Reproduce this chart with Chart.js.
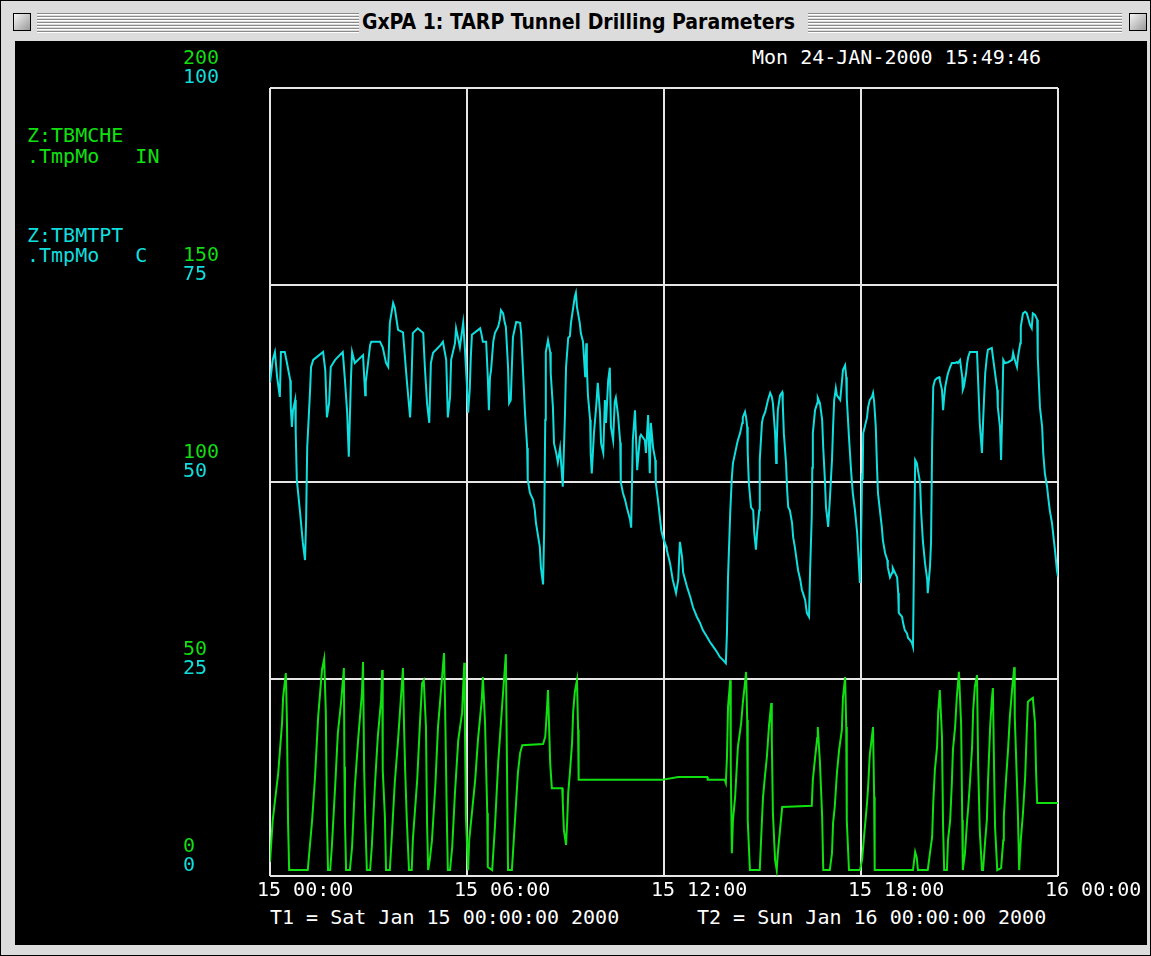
<!DOCTYPE html>
<html>
<head>
<meta charset="utf-8">
<title>GxPA 1: TARP Tunnel Drilling Parameters</title>
<script src="https://cdn.jsdelivr.net/npm/chart.js@4.4.1/dist/chart.umd.min.js"></script>
<style>
  html, body { margin: 0; padding: 0; width: 1151px; height: 956px; overflow: hidden; background: #dcdcdc; }
  #win { position: absolute; left: 0; top: 0; width: 1151px; height: 956px; box-sizing: border-box;
         border: 1px solid #000; background: #dcdcdc; }
  .stripes { position: absolute; top: 12px; height: 20px;
             background: repeating-linear-gradient(to bottom, #8a8a8a 0, #8a8a8a 1px, #ffffff 1px, #ffffff 2px, #dcdcdc 2px, #dcdcdc 3px); }
  #title { position: absolute; top: 9px; left: 6px; right: 0; text-align: center; color: #000;
           font: bold 21px "Liberation Sans Narrow", "DejaVu Sans Condensed", sans-serif; }
  .box { position: absolute; top: 12px; width: 18px; height: 18px; box-sizing: border-box;
         border: 1px solid #000; background: linear-gradient(135deg, #f4f4f4, #9a9a9a); }
  #content { position: absolute; left: 14px; top: 40px; width: 1132px; height: 904px; background: #000; }
  .t { position: absolute; font-family: "DejaVu Sans Mono", monospace; font-size: 20px; line-height: 20px; white-space: pre; }
  canvas { position: absolute; left: 0; top: 0; }
</style>
</head>
<body>
<div id="win">
  <div class="box" style="left:12px"></div>
  <div class="stripes" style="left:36px; width:322px"></div>
  <div id="title">GxPA 1: TARP Tunnel Drilling Parameters</div>
  <div class="stripes" style="left:807px; width:314px"></div>
  <div class="box" style="left:1128px"></div>
  <div id="content"></div>
</div>

<div class="t" style="left:752px; top:47px; color:#ffffff">Mon 24-JAN-2000 15:49:46</div>
<div class="t" style="left:27px; top:125px; color:#10e010">Z:TBMCHE</div>
<div class="t" style="left:27px; top:146px; color:#10e010">.TmpMo   IN</div>
<div class="t" style="left:27px; top:225px; color:#10dede">Z:TBMTPT</div>
<div class="t" style="left:27px; top:245px; color:#10dede">.TmpMo   C</div>
<div class="t" style="left:270px; top:907px; color:#ffffff">T1 = Sat Jan 15 00:00:00 2000</div>
<div class="t" style="left:697px; top:907px; color:#ffffff">T2 = Sun Jan 16 00:00:00 2000</div>

<canvas id="c" width="1171" height="956"></canvas>

<script>
// Time axis: minutes after T1 (Sat Jan 15 00:00), one day shown.
const xTickLabels = ['15 00:00', '15 06:00', '15 12:00', '15 18:00', '16 00:00'];

// Z:TBMTPT.TmpMo (C), cyan scale 0..100
const tptMinutes = [
  0,5,9,13,18,20,27,31,37,38,40,42,46,47,49,55,60,64,66,68,73,75,79,97,101,104,108,111,119,133,
  137,141,144,148,150,155,170,174,175,183,185,201,206,212,216,219,225,228,234,243,247,250,256,258,261,270,280,283,287,291,
  294,298,312,316,322,325,329,331,338,340,347,353,356,360,362,365,367,369,384,386,389,395,398,400,402,404,408,411,417,420,
  422,426,429,431,435,437,440,442,444,448,450,457,459,462,466,470,471,475,481,484,486,493,495,499,501,503,504,508,512,513,
  517,519,523,526,530,532,535,539,541,545,548,550,554,557,559,561,566,568,572,576,578,579,581,585,586,588,592,596,599,603,
  605,609,612,614,618,621,623,627,630,632,636,640,641,645,649,652,658,660,663,667,669,671,676,678,685,687,691,694,696,700,
  704,705,709,715,718,724,725,731,736,742,746,749,753,755,762,768,773,780,786,791,799,804,810,817,822,828,833,835,837,841,
  844,846,850,853,855,859,863,864,868,870,872,873,875,879,883,885,888,890,894,895,899,901,905,908,910,914,917,919,923,925,
  926,928,932,936,937,939,943,945,947,950,954,956,959,963,965,969,972,974,978,981,985,987,990,991,992,996,1000,1001,1005,1009,
  1011,1014,1016,1018,1020,1023,1025,1027,1029,1031,1034,1036,1042,1045,1047,1051,1053,1054,1058,1062,1065,1069,1073,1075,1078,1080,1082,1083,1084,1087,
  1091,1093,1096,1100,1102,1104,1107,1109,1111,1115,1118,1120,1124,1128,1129,1133,1137,1138,1142,1146,1148,1149,1155,1157,1160,1164,1166,1170,1173,1175,
  1177,1179,1182,1184,1188,1190,1193,1197,1201,1202,1206,1208,1210,1212,1215,1219,1223,1224,1228,1230,1232,1234,1237,1239,1243,1246,1252,1255,1257,1261,
  1265,1266,1268,1272,1274,1276,1279,1292,1294,1297,1301,1303,1305,1307,1310,1312,1319,1321,1325,1329,1330,1334,1336,1338,1340,1343,1349,1356,1358,1361,
  1365,1367,1371,1372,1376,1380,1383,1385,1389,1392,1394,1398,1402,1403,1407,1411,1413,1416,1420,1422,1425,1429,1431,1435,1438,1440
];
const tptValues = [
  62.6,65.5,66.5,63.3,60.8,66.5,66.5,65.1,62.9,59.4,57.0,59.1,60.4,56.3,50.3,46.1,42.3,40.1,45.2,54.4,61.3,64.6,65.5,66.5,64.2,58.2,60.0,64.6,65.5,66.5,
  62.9,58.8,53.2,63.3,66.5,65.1,66.1,61.0,62.6,67.4,67.8,67.8,67.1,65.1,64.6,70.2,72.7,72.1,69.3,69.0,65.5,62.9,58.2,61.3,68.9,69.5,68.9,64.6,60.0,57.5,
  65.1,66.4,67.4,67.8,65.5,58.2,60.8,65.5,67.6,69.5,67.1,70.2,67.1,62.1,58.8,61.7,65.9,68.7,69.5,68.9,67.8,67.8,63.3,59.1,63.3,64.2,67.8,68.9,69.7,70.6,
  71.8,71.4,70.2,69.7,64.6,60.0,60.4,64.6,68.4,69.7,70.3,70.2,68.9,64.6,58.8,54.3,50.3,48.6,47.7,46.4,44.8,41.8,39.2,37.0,43.9,57.9,66.5,68.0,66.5,63.8,
  59.5,54.9,53.7,52.5,54.3,52.4,49.4,58.5,64.6,68.3,68.5,70.2,72.1,73.5,74.0,72.2,70.2,68.9,67.8,63.3,67.6,64.6,61.0,57.9,53.7,51.1,56.2,59.5,62.6,58.8,
  54.9,53.7,60.4,57.5,62.9,64.5,57.0,55.3,60.2,60.7,58.5,55.0,50.0,48.6,47.7,46.8,45.2,44.2,55.3,59.1,55.3,51.5,55.7,56.0,55.3,53.7,58.5,51.1,57.5,54.4,
  52.8,49.9,47.7,43.9,43.0,41.8,41.4,39.7,37.6,35.9,37.6,42.4,40.5,38.5,36.7,35.4,34.1,32.9,32.1,31.2,30.3,29.7,29.1,28.4,27.8,27.4,27.0,30.8,37.9,46.1,
  50.6,52.4,53.7,54.7,55.3,56.2,57.5,58.2,58.9,58.2,57.0,53.7,49.9,46.8,46.4,43.5,41.4,43.5,46.4,52.8,57.5,58.2,58.9,59.8,60.4,61.3,60.8,60.0,56.2,52.4,
  54.9,59.1,61.0,61.4,60.0,56.2,52.4,49.0,46.8,46.4,44.8,43.0,41.8,39.8,38.8,37.6,36.3,35.9,35.0,33.4,32.9,38.8,45.6,51.8,56.2,59.1,60.0,60.7,60.0,57.9,
  54.3,50.3,46.8,45.6,44.3,47.7,50.3,52.8,57.0,60.4,61.9,61.0,60.4,62.6,64.2,64.8,63.3,60.7,55.7,51.3,48.6,46.4,43.5,41.0,37.2,41.8,51.1,50.3,56.2,57.0,
  58.2,59.5,60.4,60.8,61.3,60.2,57.0,52.4,48.6,46.1,44.3,42.6,41.0,40.1,39.2,37.9,38.5,39.1,38.5,37.9,35.9,33.4,32.9,32.1,31.2,30.8,30.2,29.9,29.6,29.1,
  41.0,52.8,52.4,51.5,49.9,46.1,42.6,39.7,37.6,35.9,39.2,42.3,54.9,62.1,62.9,63.2,63.3,62.9,61.7,59.1,60.8,62.1,63.2,63.8,64.6,65.1,65.1,65.2,65.1,65.5,
  63.3,61.7,62.1,63.8,65.1,65.9,66.5,66.5,62.9,57.5,53.7,57.5,60.8,63.8,65.9,66.8,67.0,65.9,63.8,61.7,59.5,57.0,52.8,58.8,65.5,65.1,65.2,65.5,66.4,65.5,
  64.6,65.9,67.6,69.7,71.4,71.6,71.4,70.9,69.9,69.5,71.4,71.2,70.6,65.9,59.5,57.0,53.7,51.1,49.4,48.1,46.4,44.8,43.5,41.0,38.8,38.0
];

// Z:TBMCHE.TmpMo (IN), green scale 0..200
const cheMinutes = [
  0,5,15,22,24,29,31,33,35,69,77,82,88,95,99,102,104,106,110,113,119,124,130,135,136,137,139,146,150,155,
  161,168,170,172,174,177,183,186,192,197,203,205,206,210,212,219,223,228,234,239,243,245,247,250,254,259,261,269,274,278,
  281,285,287,289,292,296,302,307,314,318,320,323,325,329,333,338,344,351,355,356,358,362,364,369,375,380,387,389,393,397,
  398,406,411,417,424,431,433,435,442,444,453,457,461,499,503,506,508,512,515,534,535,537,541,543,545,548,552,554,557,561,
  563,564,716,746,799,800,831,833,835,837,841,842,844,846,850,853,855,861,864,868,870,872,873,877,895,899,901,905,908,912,
  916,917,919,923,926,928,932,936,990,992,996,1000,1001,1005,1009,1011,1023,1027,1029,1032,1036,1040,1045,1047,1051,1053,1054,1058,1078,1082,
  1085,1091,1093,1096,1102,1104,1105,1175,1179,1182,1184,1202,1206,1210,1212,1215,1219,1221,1224,1228,1230,1232,1237,1239,1243,1246,1248,1252,1255,1259,
  1263,1265,1266,1270,1274,1276,1279,1283,1285,1288,1292,1294,1297,1301,1303,1307,1310,1312,1316,1319,1321,1323,1325,1329,1336,1340,1341,1345,1349,1352,
  1356,1360,1361,1365,1367,1369,1372,1376,1380,1383,1385,1391,1394,1398,1400,1402,1440
];
const cheValues = [
  3.6,14.2,26.1,38.8,45.4,51.5,38.8,13.7,1.5,1.5,14.2,24.4,40.4,52.3,55.1,41.6,14.7,1.5,1.5,7.4,22.6,36.3,44.2,52.8,27.7,14.2,1.5,1.5,7.4,22.6,
  34.5,46.4,54.3,27.7,15.0,1.5,1.5,7.4,23.6,35.3,44.7,52.3,26.9,15.0,1.5,1.5,10.9,23.6,34.5,44.7,52.8,37.8,26.9,14.2,1.5,1.5,9.1,24.4,38.8,49.0,
  49.7,37.8,13.5,1.5,4.1,9.1,22.6,37.8,49.7,56.6,42.9,16.0,1.5,1.5,7.4,21.1,34.5,41.4,54.1,40.4,15.0,1.5,9.1,16.0,24.4,34.5,44.7,50.5,38.8,16.0,
  2.3,1.5,12.4,28.7,42.9,56.3,28.7,1.5,1.5,5.8,26.1,31.2,33.2,33.5,35.3,42.1,47.2,28.7,22.3,22.3,18.8,11.7,7.9,13.7,21.1,26.1,33.8,41.6,46.7,49.7,
  37.1,24.4,24.4,25.1,25.1,24.4,24.4,23.6,29.9,42.9,49.7,27.7,5.8,14.2,20.1,27.7,32.7,38.8,43.9,49.0,51.8,39.6,14.2,1.5,1.5,14.2,20.1,26.1,30.2,38.3,
  43.9,34.5,16.0,4.1,1.5,5.8,11.7,17.5,17.8,24.4,29.9,35.0,37.8,28.7,15.0,1.5,1.5,5.8,13.5,17.5,26.1,32.0,37.1,45.2,50.5,37.8,14.2,1.5,1.5,4.1,
  9.1,18.5,22.6,30.7,37.8,20.1,1.5,1.5,6.1,4.6,1.5,1.5,5.8,9.9,18.5,26.9,32.7,41.4,47.2,35.3,12.4,1.5,1.5,9.1,14.2,23.6,32.0,37.8,45.2,51.8,
  38.3,14.2,1.5,5.8,14.2,17.5,23.6,32.7,42.1,48.0,51.0,28.7,11.7,1.5,1.5,9.1,14.2,23.6,37.8,44.7,47.7,28.7,12.4,1.5,2.0,9.1,15.0,24.4,32.7,40.4,
  47.2,53.0,40.4,23.6,14.2,1.5,9.1,16.0,25.1,37.1,44.2,44.9,45.2,38.8,26.1,18.5,18.5
];

const CYAN = '#10dede';
const GREEN = '#10e010';
const GRID = '#e6e6e6';
const MONO = { family: '"DejaVu Sans Mono", monospace', size: 20 };

const toPoints = (xs, ys) => xs.map((x, i) => ({ x: x, y: ys[i] }));

new Chart(document.getElementById('c').getContext('2d'), {
  type: 'line',
  data: {
    datasets: [
      { label: 'Z:TBMTPT.TmpMo', data: toPoints(tptMinutes, tptValues), yAxisID: 'yC',
        borderColor: CYAN, borderWidth: 2, pointRadius: 0, tension: 0, fill: false },
      { label: 'Z:TBMCHE.TmpMo', data: toPoints(cheMinutes, cheValues), yAxisID: 'yG',
        borderColor: GREEN, borderWidth: 2, pointRadius: 0, tension: 0, fill: false }
    ]
  },
  options: {
    responsive: false,
    animation: false,
    events: [],
    layout: { padding: { left: 183, top: 88, right: 113, bottom: 50 } },
    plugins: { legend: { display: false }, tooltip: { enabled: false } },
    scales: {
      x: {
        type: 'linear', min: 0, max: 1440,
        ticks: { stepSize: 360, color: '#ffffff', font: MONO, align: 'start', labelOffset: -13,
                 padding: 3, maxRotation: 0, autoSkip: false,
                 callback: v => xTickLabels[Math.round(v / 360)] },
        grid: { color: GRID, lineWidth: 2, drawTicks: false },
        border: { display: false },
        afterFit: s => { s.height = 30; }
      },
      yG: {
        position: 'left', min: 0, max: 200, weight: 0,
        ticks: { stepSize: 50, color: GREEN, font: MONO, crossAlign: 'far', labelOffset: -29, padding: 0 },
        grid: { color: GRID, lineWidth: 2, drawTicks: false },
        border: { display: false },
        afterFit: s => { s.width = 87; }
      },
      yC: {
        // zero-width outer axis; mirrored labels start at its edge, under the green ones
        position: 'left', min: 0, max: 100, weight: 1,
        ticks: { stepSize: 25, color: CYAN, font: MONO, mirror: true, labelOffset: -10, padding: 0 },
        grid: { display: false, drawTicks: false },
        border: { display: false },
        afterFit: s => { s.width = 0; }
      }
    }
  }
});
</script>
</body>
</html>
